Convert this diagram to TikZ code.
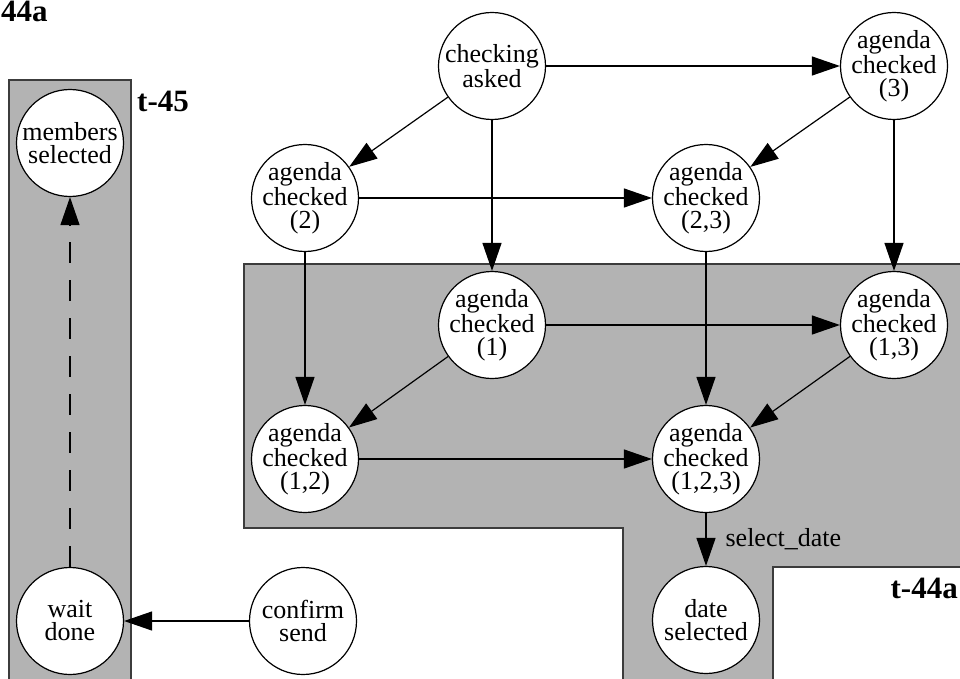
\documentclass[tikz,border=0pt]{standalone}
\usepackage{fontspec}
\setmainfont{Liberation Serif}
\usetikzlibrary{arrows.meta}
\definecolor{regiongray}{RGB}{179,179,179}
\definecolor{regionline}{RGB}{60,60,60}
\begin{document}
\begin{tikzpicture}[x=1pt,y=-1pt,
  st/.style={circle,draw,fill=white,line width=1.2pt,minimum size=107pt,inner sep=-8pt,align=center,font=\fontsize{26}{23}\selectfont},
  ed/.style={line width=1.2pt,-{Triangle[length=28pt,width=19pt]}},
  lbl/.style={font=\fontsize{31}{31}\selectfont\bfseries,inner sep=0pt},
  region/.style={fill=regiongray,draw=regionline,line width=1.2pt}]
\useasboundingbox (0,0) rectangle (960,679);
% regions
\path[region] (9,690) -- (9,80) -- (131,80) -- (131,690);
\path[region] (970,264) -- (244,264) -- (244,528) -- (623,528) -- (623,690)
  -- (773,690) -- (773,567) -- (970,567);
% labels
\node[lbl,anchor=base west] (l44) at (1,22) {44a};
\node[lbl,anchor=base west] (l45) at (137,112) {t-45};
\node[lbl,anchor=base east] (l44a) at (958,598) {t-44a};
% states
\node[st] (ca) at (492,66) {checking\\asked};
\node[st] (a3) at (894,66) {agenda\\checked\\(3)};
\node[st] (a2) at (305,198) {agenda\\checked\\(2)};
\node[st] (a23) at (706,198) {agenda\\checked\\(2,3)};
\node[st] (a1) at (492,325) {agenda\\checked\\(1)};
\node[st] (a13) at (894,325) {agenda\\checked\\(1,3)};
\node[st] (a12) at (305,459) {agenda\\checked\\(1,2)};
\node[st] (a123) at (706,459) {agenda\\checked\\(1,2,3)};
\node[st] (ds) at (706,620) {date\\selected};
\node[st] (cs) at (303,621) {confirm\\send};
\node[st] (wd) at (70,621) {wait\\done};
\node[st] (ms) at (70,143) {members\\selected};
% edges
\draw[ed] (ca) -- (a2);
\draw[ed] (ca) -- (a1);
\draw[ed] (ca) -- (a3);
\draw[ed] (a3) -- (a23);
\draw[ed] (a3) -- (a13);
\draw[ed] (a2) -- (a23);
\draw[ed] (a2) -- (a12);
\draw[ed] (a23) -- (a123);
\draw[ed] (a1) -- (a13);
\draw[ed] (a1) -- (a12);
\draw[ed] (a13) -- (a123);
\draw[ed] (a12) -- (a123);
\draw[ed] (a123) -- node[right=19pt,font=\fontsize{26}{26}\selectfont,inner sep=0pt] (sdl) {select\_date} (ds);
\draw[ed] (cs) -- (wd);
\draw[ed,dash pattern=on 21pt off 17pt] (wd) -- (ms);
\end{tikzpicture}
\end{document}
